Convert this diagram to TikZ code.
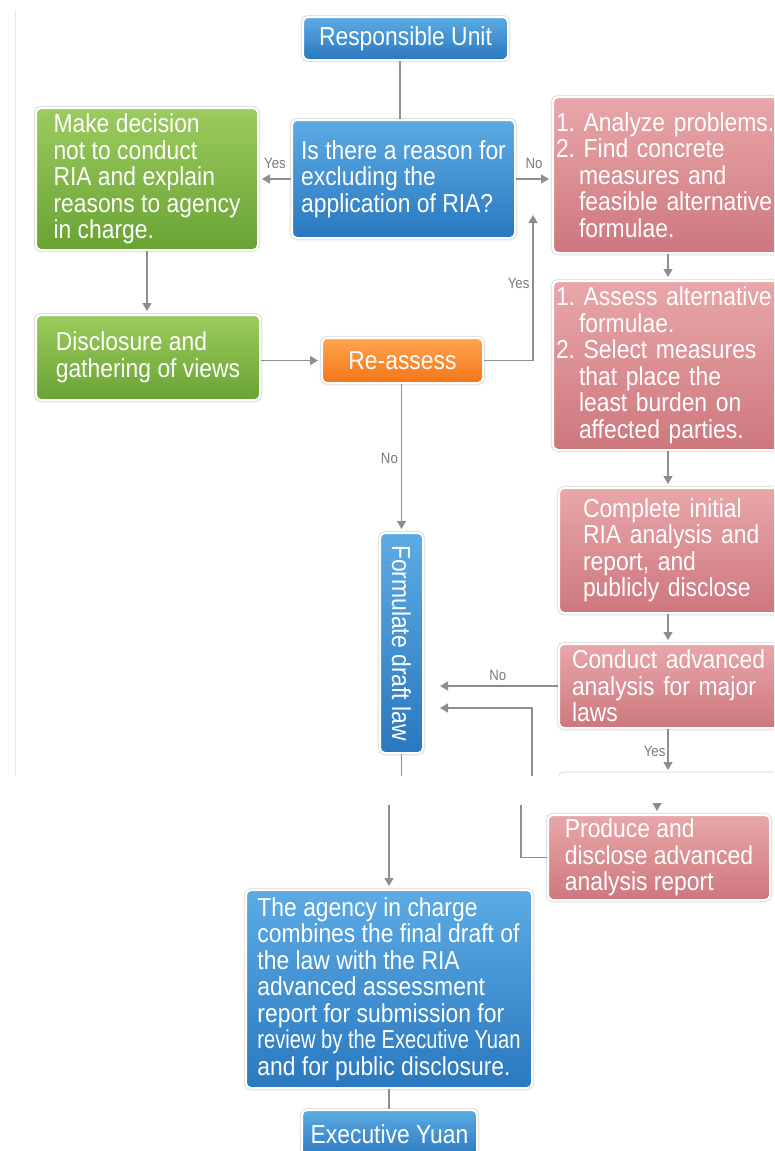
\documentclass[tikz,border=0pt]{standalone}
\usepackage{fontspec}
\setmainfont{Liberation Sans}[FakeStretch=0.88]
\usepackage{graphicx}
\usetikzlibrary{arrows.meta,calc}
\frenchspacing
\definecolor{blueT}{HTML}{5CABE4}
\definecolor{blueB}{HTML}{2A78BF}
\definecolor{greenT}{HTML}{9CCB5E}
\definecolor{greenB}{HTML}{68A333}
\definecolor{pinkT}{HTML}{E9A7A9}
\definecolor{pinkB}{HTML}{CD777E}
\definecolor{orangeT}{HTML}{FFA54E}
\definecolor{orangeB}{HTML}{F47418}
\definecolor{lineC}{HTML}{8E8E8E}
\definecolor{labelC}{HTML}{7A7A7A}
\newcommand{\ind}{\hspace*{23pt}}
\tikzset{
  box/.style={rounded corners=5pt, preaction={draw=black!11, line width=4.5pt},
    draw=white, line width=2pt, text=white, inner ysep=0pt, inner xsep=4pt,
    font=\fontsize{26}{26.5}\selectfont\frenchspacing, align=left, anchor=center},
  bluebox/.style={box, top color=blueT, bottom color=blueB},
  greenbox/.style={box, top color=greenT, bottom color=greenB},
  pinkbox/.style={box, top color=pinkT, bottom color=pinkB},
  orangebox/.style={box, top color=orangeT, bottom color=orangeB},
  conn/.style={draw=lineC, line width=1.3pt},
  arr/.style={conn, -{Triangle[width=9pt,length=8pt]}, shorten >=3pt},
  lab/.style={text=labelC, font=\fontsize{15}{16}\selectfont, inner sep=1pt},
}
\begin{document}
\begin{tikzpicture}[x=1pt,y=-1pt]
\useasboundingbox (0,0) rectangle (774,1151);
\clip (0,0) rectangle (774,1151);
\fill[white] (0,0) rectangle (774,1151);
\draw[black!9, line width=1pt] (15,10) -- (15,776);

% nodes
\node[bluebox, minimum width=205pt, minimum height=43pt, align=center] (RU) at (405.5,38.5) {Responsible Unit};
\node[bluebox, minimum width=223pt, minimum height=118pt] (Dec) at (403.5,179)
  {Is there a reason for\\excluding the\\application of RIA?};
\node[greenbox, minimum width=222pt, minimum height=142pt] (G1) at (147,179)
  {Make decision\\not to conduct\\RIA and explain\\reasons to agency\\in charge.};
\node[pinkbox, text width=260pt, inner xsep=3pt, minimum height=156pt] (P1) at (686,175)
  {1. Analyze problems.\\2. Find concrete\\\ind measures and\\\ind feasible alternative\\\ind formulae.};
\node[pinkbox, text width=260pt, inner xsep=3pt, minimum height=169pt] (P2) at (686,365.5)
  {1. Assess alternative\\\ind formulae.\\2. Select measures\\\ind that place the\\\ind least burden on\\\ind affected parties.};
\node[greenbox, minimum width=224pt, minimum height=85pt] (G2) at (148,357.5)
  {Disclosure and\\gathering of views};
\node[orangebox, minimum width=161pt, minimum height=45pt, align=center] (RA) at (402.5,360.5) {Re-assess};
\node[bluebox, minimum width=43pt, minimum height=220pt, inner xsep=0pt, align=center] (FD) at (401.5,643)
  {\rotatebox{-90}{Formulate draft law}};
\node[pinkbox, text width=260pt, inner xsep=24pt, minimum height=125pt] (P3) at (713,550.5)
  {Complete initial\\RIA analysis and\\report, and\\publicly disclose};
\node[pinkbox, text width=260pt, inner xsep=13pt, minimum height=84pt] (P4) at (702,686)
  {Conduct advanced\\analysis for major\\laws};
\node[pinkbox, minimum width=222pt, minimum height=85pt] (Prod) at (659,857.5)
  {Produce and\\disclose advanced\\analysis report};
\node[bluebox, minimum width=286pt, minimum height=198pt] (Ag) at (389,989)
  {The agency in charge\\combines the final draft of\\the law with the RIA\\advanced assessment\\report for submission for\\\scalebox{0.88}[1]{review by the Executive Yuan}\\and for public disclosure.};
\node[bluebox, minimum width=175pt, minimum height=48pt, align=center] (EY) at (389.5,1134) {Executive Yuan};

% faint cut box at the splice
\draw[black!13, line width=1pt, rounded corners=4pt] (559,777) |- (800,772);

% coordinates
\coordinate (c400) at (400,0);
\coordinate (c668) at (668,0);
\coordinate (upTip) at (533,212);
\coordinate (fbTop) at (668,773);
\coordinate (gapTopR) at (532,776);
\coordinate (fdIn2) at (424,708);
\coordinate (gapTopL) at (401.5,776);

% connectors (top screenshot)
\draw[conn] (RU.south -| c400) -- (Dec.north -| c400);
\draw[arr] (Dec.west) -- (G1.east) node[lab, midway, above=9pt] {Yes};
\draw[arr] (Dec.east) -- (Dec.east -| P1.west) node[lab, midway, above=9pt] {No};
\draw[arr] (G1.south) -- (G1.south |- G2.north);
\draw[arr] (RA.west -| G2.east) -- (RA.west);
\draw[arr] (RA.east) -| (upTip) node[lab, pos=.76, left=2pt] {Yes};
\draw[arr] (RA.south -| FD.north) -- (FD.north) node[lab, midway, left=2pt] {No};
\draw[arr] (P1.south -| c668) -- (P2.north -| c668);
\draw[arr] (P2.south -| c668) -- (P3.north -| c668);
\draw[arr] (P3.south -| c668) -- (P4.north -| c668);
\draw[arr, shorten >=16pt] (P4.west) -- (P4.west -| FD.east) node[lab, pos=.45, above=4pt] {No};
\draw[arr, shorten >=16pt] (gapTopR) |- (fdIn2);
\draw[arr] (P4.south -| c668) -- (fbTop) node[lab, midway, left=1pt] {Yes};
\draw[conn] (FD.south) -- (gapTopL);

% splice gap
\fill[white] (0,776) rectangle (774,805);

% connectors (bottom screenshot)
\coordinate (gapBotL) at (389,805);
\coordinate (gapBotR) at (521,805);
\coordinate (gapBotP) at (657,804);
\draw[arr] (gapBotL) -- (Ag.north -| gapBotL);
\draw[conn] (Prod.west) -| (gapBotR);
\draw[arr] (gapBotP) -- (Prod.north -| gapBotP);
\draw[conn] (Ag.south) -- (Ag.south |- EY.north);
\end{tikzpicture}
\end{document}
